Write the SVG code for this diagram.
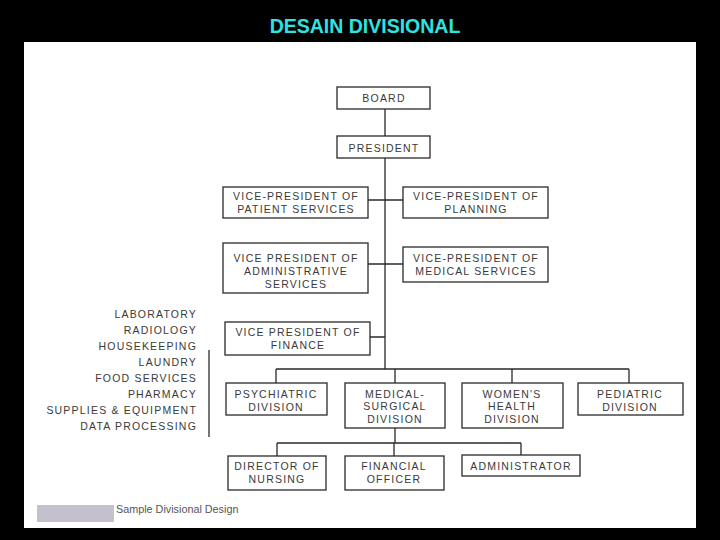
<svg xmlns="http://www.w3.org/2000/svg" width="720" height="540" viewBox="0 0 720 540">
<style>
.box{fill:none;stroke:#2a2a2a;stroke-width:1.3}
.t{font-family:"Liberation Sans",Arial,sans-serif;font-size:10.5px;fill:#3a3a3a;text-anchor:middle;letter-spacing:1.2px}
.l{font-family:"Liberation Sans",Arial,sans-serif;font-size:10.5px;fill:#3a3a3a;text-anchor:end;letter-spacing:1.2px}
.c{fill:none;stroke:#2a2a2a;stroke-width:1.3}
</style>
<rect x="0" y="0" width="720" height="540" fill="#000"/>
<rect x="24" y="42" width="672" height="486" fill="#fff"/>
<text x="365" y="33" font-family="'Liberation Sans',Arial,sans-serif" font-size="19.5" font-weight="bold" fill="#2ee3e3" text-anchor="middle">DESAIN DIVISIONAL</text>

<g id="connectors">
<path class="c" d="M385 109V136M385 158V369M368 200H403M368 264H403M370 337H385"/>
<path class="c" d="M276 369H629M276 369V383M395 369V383M512 369V383M629 369V383"/>
<path class="c" d="M395 428V443M277 443H521M277 443V456M394 443V456M521 443V455"/>
<path class="c" d="M209 350V437"/>
</g>

<g id="board"><rect class="box" x="337" y="87" width="93" height="22"/><text class="t" x="384" y="102">BOARD</text></g>
<g id="president"><rect class="box" x="337" y="136" width="93" height="22"/><text class="t" x="384" y="152">PRESIDENT</text></g>
<g id="vp-patient"><rect class="box" x="223" y="187" width="145" height="31"/><text class="t" x="296" y="200">VICE-PRESIDENT OF</text><text class="t" x="296" y="213">PATIENT SERVICES</text></g>
<g id="vp-planning"><rect class="box" x="403" y="187" width="145" height="31"/><text class="t" x="476" y="200">VICE-PRESIDENT OF</text><text class="t" x="476" y="213">PLANNING</text></g>
<g id="vp-admin"><rect class="box" x="223" y="243" width="145" height="50"/><text class="t" x="296" y="262">VICE PRESIDENT OF</text><text class="t" x="296" y="275">ADMINISTRATIVE</text><text class="t" x="296" y="288">SERVICES</text></g>
<g id="vp-medical"><rect class="box" x="403" y="247" width="145" height="35"/><text class="t" x="476" y="262">VICE-PRESIDENT OF</text><text class="t" x="476" y="275">MEDICAL SERVICES</text></g>
<g id="vp-finance"><rect class="box" x="225" y="322" width="145" height="33"/><text class="t" x="298" y="336">VICE PRESIDENT OF</text><text class="t" x="298" y="349">FINANCE</text></g>

<g id="services-list">
<text class="l" x="197" y="318">LABORATORY</text>
<text class="l" x="197" y="334">RADIOLOGY</text>
<text class="l" x="197" y="350">HOUSEKEEPING</text>
<text class="l" x="197" y="366">LAUNDRY</text>
<text class="l" x="197" y="382">FOOD SERVICES</text>
<text class="l" x="197" y="398">PHARMACY</text>
<text class="l" x="197" y="414">SUPPLIES &amp; EQUIPMENT</text>
<text class="l" x="197" y="430">DATA PROCESSING</text>
</g>

<g id="psychiatric"><rect class="box" x="226" y="383" width="101" height="32"/><text class="t" x="276" y="398">PSYCHIATRIC</text><text class="t" x="276" y="411">DIVISION</text></g>
<g id="medsurg"><rect class="box" x="345" y="383" width="100" height="45"/><text class="t" x="395" y="398">MEDICAL-</text><text class="t" x="395" y="410">SURGICAL</text><text class="t" x="395" y="423">DIVISION</text></g>
<g id="womens"><rect class="box" x="462" y="383" width="101" height="45"/><text class="t" x="512" y="398">WOMEN'S</text><text class="t" x="512" y="410">HEALTH</text><text class="t" x="512" y="423">DIVISION</text></g>
<g id="pediatric"><rect class="box" x="578" y="383" width="105" height="32"/><text class="t" x="630" y="398">PEDIATRIC</text><text class="t" x="630" y="411">DIVISION</text></g>

<g id="director"><rect class="box" x="228" y="456" width="98" height="34"/><text class="t" x="277" y="470">DIRECTOR OF</text><text class="t" x="277" y="483">NURSING</text></g>
<g id="financial"><rect class="box" x="345" y="456" width="99" height="34"/><text class="t" x="394" y="470">FINANCIAL</text><text class="t" x="394" y="483">OFFICER</text></g>
<g id="administrator"><rect class="box" x="462" y="455" width="118" height="21"/><text class="t" x="521" y="470">ADMINISTRATOR</text></g>

<rect x="37" y="505" width="77" height="17" fill="#c4c0cc"/>
<text x="116" y="513" font-family="'Liberation Sans',Arial,sans-serif" font-size="10.8" fill="#555">Sample Divisional Design</text>
</svg>
